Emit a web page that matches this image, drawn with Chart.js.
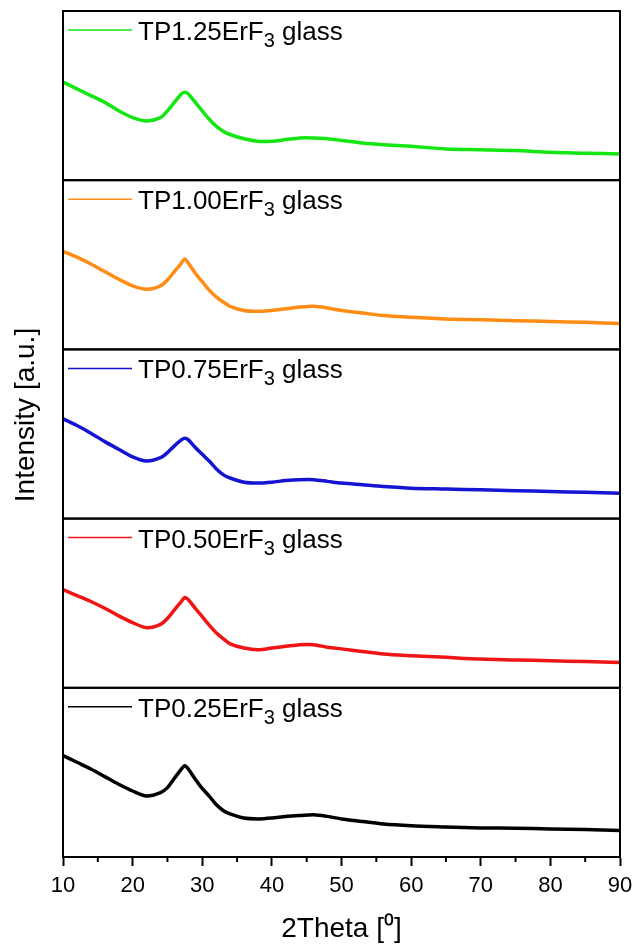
<!DOCTYPE html>
<html>
<head>
<meta charset="utf-8">
<script src="https://cdn.jsdelivr.net/npm/chart.js@4.4.1/dist/chart.umd.min.js"></script>
<style>
  body { margin: 0; background: #fff; }
  canvas { display: block; }
</style>
</head>
<body>
<canvas id="myChart" width="633" height="947"></canvas>
<script>
'use strict'

const thetaValues = [10, 12, 14, 16, 18, 20, 22, 24, 25, 26, 27, 27.5, 28, 29, 30, 31, 32, 33, 34, 36, 38,
  40, 42, 44, 46, 48, 50, 53, 56, 60, 65, 70, 75, 80, 85, 90];

// intensities, in percent of the panel height (each panel is its own 0..100 scale)
const tp125 = [58, 54, 50, 46, 41, 37, 35, 37, 41, 46, 51, 52, 51, 46, 41, 36, 32, 29, 27, 24.5, 23,
  23, 24, 25, 25, 24.5, 23.5, 22, 21, 20, 18.5, 18, 17.5, 16.5, 16, 15.5];
const tp100 = [58, 54.5, 50.5, 46, 41.5, 37.5, 35.5, 37.5, 41, 46, 51, 53.5, 51, 45, 40, 35, 31, 28, 25.5, 23, 22.5,
  23, 24, 25, 25.5, 24.5, 23, 21.5, 20, 19, 18, 17.5, 17, 16.5, 16, 15.3];
const tp075 = [59, 55, 50.5, 45.5, 41, 36.5, 34, 36, 39, 43, 46.5, 47.5, 46.5, 42, 38, 34, 29.5, 26, 24, 21.5, 21,
  21.5, 22.5, 23, 23, 22, 21, 20, 19, 18, 17.5, 17, 16.5, 16, 15.5, 15];
const tp050 = [58, 54.5, 51, 47, 42.5, 38.5, 35.5, 37.5, 41, 46, 51, 53.4, 52, 47, 42, 37, 32.5, 29, 26, 23.5, 22.5,
  23.5, 24.5, 25.5, 25.5, 24, 23, 21.5, 20, 19, 18, 17, 16.5, 16, 15.5, 15];
const tp025 = [60, 56, 52, 47.5, 43, 39, 36, 38, 41, 46.5, 52, 54, 52, 46, 40.5, 36, 31, 27.5, 25.5, 23, 22.5,
  23, 24, 24.5, 25, 24, 22.5, 21, 19.5, 18.5, 17.8, 17.2, 17, 16.6, 16.2, 15.7];

// panels from top to bottom
const panelSeries = [tp125, tp100, tp075, tp050, tp025];
const panelNames = ['TP1.25ErF', 'TP1.00ErF', 'TP0.75ErF', 'TP0.50ErF', 'TP0.25ErF'];
const panelColors = ['#14e614', '#ff8c14', '#1414d2', '#f01414', '#000000'];

const xTicks = [10, 20, 30, 40, 50, 60, 70, 80, 90];
const xMinorTicks = [15, 25, 35, 45, 55, 65, 75, 85];

const fontFamily = '"Liberation Sans", Arial, sans-serif';

let datasets = [];
let scales = {
  x: {
    type: 'linear',
    min: 10,
    max: 90,
    afterBuildTicks: (axis) => { axis.ticks = xTicks.map(v => ({ value: v })); },
    // let the end labels hang over the edges instead of shrinking the plot
    afterFit: (axis) => { axis.paddingLeft = 0; axis.paddingRight = 0; },
    ticks: { color: '#000', font: { family: fontFamily, size: 22 }, padding: 7 },
    grid: { drawOnChartArea: false, tickLength: 9, tickColor: '#000', tickWidth: 2 },
    border: { color: '#000', width: 2 },
    title: {
      display: true,
      text: '2Theta [\u2070]',
      color: '#000',
      font: { family: fontFamily, size: 28 },
      padding: { top: 6, bottom: 0 }
    }
  }
};

for (let i = 0; i < panelSeries.length; i++) {
  datasets.push({
    label: panelNames[i] + '3 glass',
    data: thetaValues.map((t, j) => ({ x: t, y: panelSeries[i][j] })),
    yAxisID: 'y' + i,
    borderColor: panelColors[i],
    borderWidth: 3.5,
    pointRadius: 0,
    tension: 0.3
  });
}

// stacked scales are laid out bottom-up, so add the bottom panel first
for (let i = panelSeries.length - 1; i >= 0; i--) {
  scales['y' + i] = {
    type: 'linear',
    stack: 'panels',
    stackWeight: 1,
    position: 'left',
    min: 0,
    max: 100,
    ticks: { display: false },
    grid: { display: false, drawTicks: false },
    border: { display: false }
  };
}

// panel frames, legends, minor x ticks and the shared y title
const panelPlugin = {
  id: 'panels',
  afterDraw(chart) {
    const ctx = chart.ctx;
    const area = chart.chartArea;
    ctx.save();
    ctx.strokeStyle = '#000';
    ctx.lineWidth = 2;
    for (let i = 0; i < panelSeries.length; i++) {
      let s = chart.scales['y' + i];
      ctx.strokeRect(area.left, s.top, area.right - area.left, s.bottom - s.top);

      // legend entry
      let ly = s.top + 19;
      ctx.strokeStyle = panelColors[i];
      ctx.lineWidth = 1.5;
      ctx.beginPath();
      ctx.moveTo(area.left + 5, ly);
      ctx.lineTo(area.left + 69, ly);
      ctx.stroke();
      ctx.strokeStyle = '#000';
      ctx.lineWidth = 2;

      ctx.fillStyle = '#000';
      ctx.textBaseline = 'alphabetic';
      ctx.textAlign = 'left';
      let tx = area.left + 75;
      let by = s.top + 29;
      ctx.font = '26px ' + fontFamily;
      ctx.fillText(panelNames[i], tx, by);
      tx += ctx.measureText(panelNames[i]).width;
      ctx.font = '20px ' + fontFamily;
      ctx.fillText('3', tx, by + 7);
      tx += ctx.measureText('3').width;
      ctx.font = '26px ' + fontFamily;
      ctx.fillText(' glass', tx, by);
    }

    // minor ticks on the x axis
    const x = chart.scales.x;
    ctx.beginPath();
    for (const v of xMinorTicks) {
      let px = x.getPixelForValue(v);
      ctx.moveTo(px, area.bottom);
      ctx.lineTo(px, area.bottom + 5);
    }
    ctx.stroke();

    // y title
    ctx.translate(26, 415);
    ctx.rotate(-Math.PI / 2);
    ctx.font = '28px ' + fontFamily;
    ctx.textAlign = 'center';
    ctx.textBaseline = 'middle';
    ctx.fillText('Intensity [a.u.]', 0, 0);
    ctx.restore();
  }
};

const config = {
  type: 'line',
  data: { datasets: datasets },
  options: {
    responsive: false,
    animation: false,
    layout: { padding: { left: 63, right: 13, top: 11, bottom: 1 } },
    plugins: {
      legend: { display: false },
      tooltip: { enabled: false }
    },
    scales: scales
  },
  plugins: [panelPlugin]
};

let canvasChart = document.getElementById('myChart');
const myChart = new Chart(canvasChart, config);
</script>
</body>
</html>
